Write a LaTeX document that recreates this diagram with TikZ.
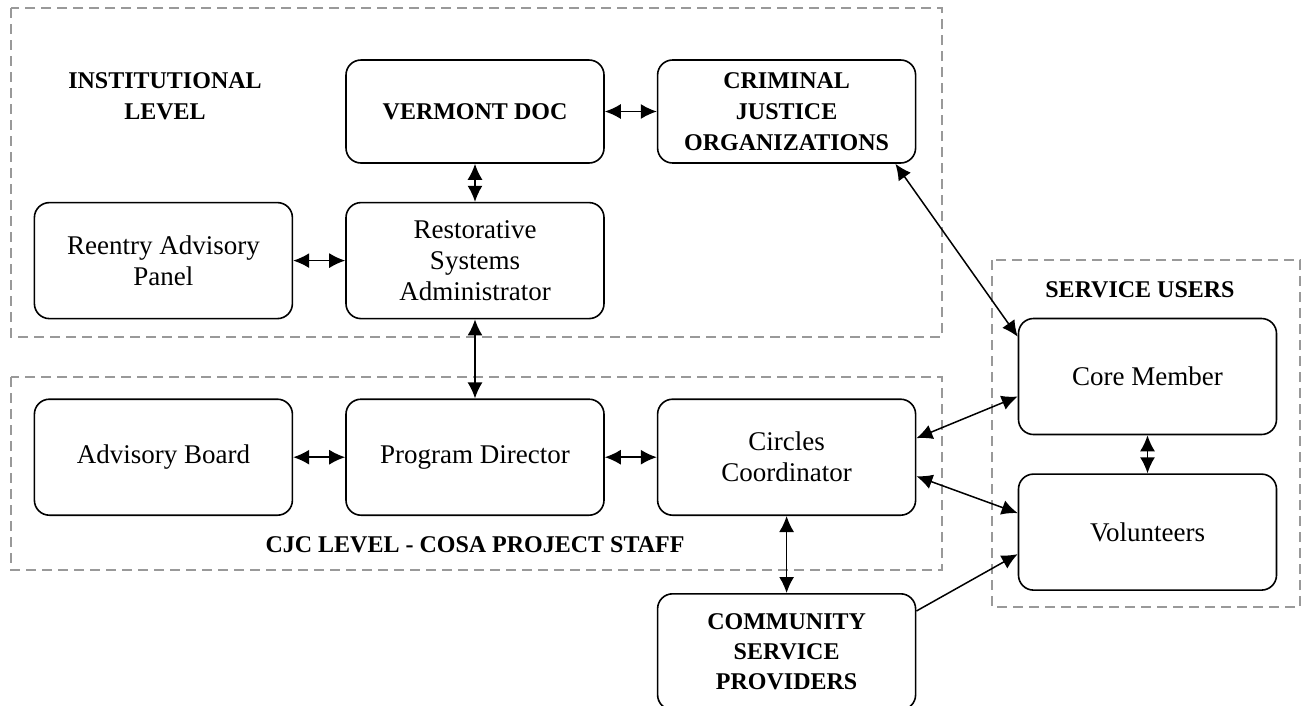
\documentclass[tikz,border=0pt]{standalone}
\usepackage{fontspec}
\setmainfont{Liberation Serif}
\usetikzlibrary{arrows.meta, positioning}

\begin{document}
\begin{tikzpicture}[
            x=1pt, y=-1pt,
            every node/.style={align=center, font=\fontsize{27}{31}\selectfont},
            box/.style={draw, rectangle, rounded corners=15pt, line width=1.6pt, minimum width=258pt, minimum height=116pt},
            topbox/.style={box, minimum height=103pt, font=\fontsize{24}{31}\selectfont\bfseries},
            title/.style={font=\fontsize{24}{31}\selectfont\bfseries},
            group/.style={draw=gray!80, dash pattern=on 10pt off 6pt, line width=1.8pt},
            link/.style={{Latex[length=16pt,width=15pt]}-{Latex[length=16pt,width=15pt]}, line width=1.5pt},
            oneway/.style={-{Latex[length=16pt,width=15pt]}, line width=1.5pt}
        ]
            \useasboundingbox (0,0) rectangle (1301,705);

            % dashed groups
            \draw [group] (11,8) rectangle (942,337);
            \draw [group] (11,377) rectangle (942,570);
            \draw [group] (992,260) rectangle (1300,607);

            % institutional level
            \node [topbox] (vdoc) at (475,111.5) {VERMONT DOC};
            \node [topbox, right=52pt of vdoc] (cjorg) {CRIMINAL\\JUSTICE\\ORGANIZATIONS};
            \node [box, below=38pt of vdoc] (rsa) {Restorative\\Systems\\Administrator};
            \node [box, left=52pt of rsa] (panel) {Reentry Advisory\\Panel};
            \node [title] (instlabel) at (165,96) {INSTITUTIONAL\\LEVEL};

            % cjc level
            \node [box, below=79pt of rsa] (director) {Program Director};
            \node [box, left=52pt of director] (board) {Advisory Board};
            \node [box, right=52pt of director] (coord) {Circles\\Coordinator};
            \node [title] (cjclabel) at (475,545) {CJC LEVEL - COSA PROJECT STAFF};
            \node [box, below=77pt of coord, font=\fontsize{24}{30}\selectfont\bfseries] (csp) {COMMUNITY\\SERVICE\\PROVIDERS};

            % service users
            \node [title] (userlabel) at (1140,290) {SERVICE USERS};
            \node [box] (core) at (1147.5,376.5) {Core Member};
            \node [box, below=38pt of core] (vol) {Volunteers};

            \draw [link] (vdoc) -- (cjorg);
            \draw [link] (vdoc) -- (rsa);
            \draw [link] (panel) -- (rsa);
            \draw [link] (rsa) -- (director);
            \draw [link] (board) -- (director);
            \draw [link] (director) -- (coord);
            \draw [link] (coord) -- (csp);
            \draw [link] (core) -- (vol);
            \draw [link] ([xshift=-21pt]cjorg.south east) -- ([yshift=-19pt]core.north west);
            \draw [link] ([yshift=19pt]coord.east) -- ([yshift=-20pt]core.west);
            \draw [link] ([yshift=-19pt]coord.east) -- ([yshift=19pt]vol.west);
            \draw [oneway] ([yshift=-18pt]csp.north east) -- ([yshift=-22pt]vol.west);
        \end{tikzpicture}
\end{document}
